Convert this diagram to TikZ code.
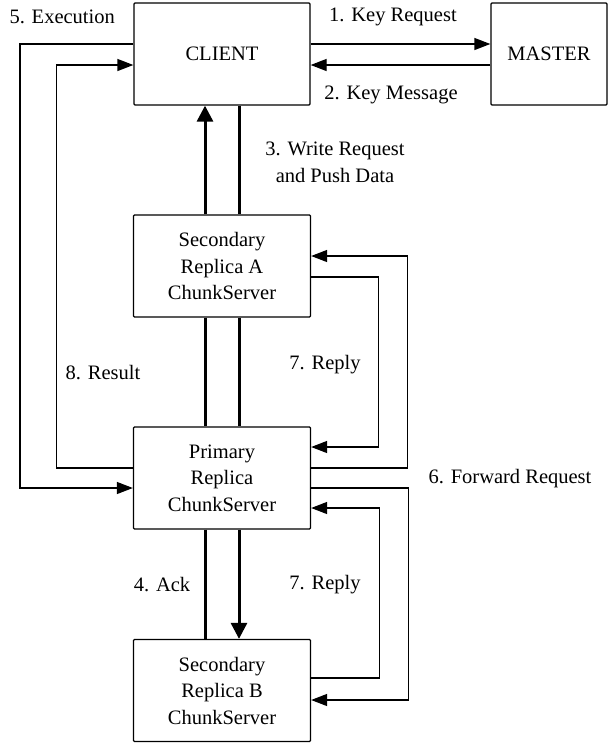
\documentclass[tikz,border=0pt]{standalone}
\usepackage{fontspec}
\setmainfont{Liberation Serif}
\usepackage{tikz}
\usetikzlibrary{arrows.meta}

\begin{document}
\begin{tikzpicture}[
	%Environment config
	x=1pt,y=1pt,
	font=\fontsize{20.5}{26.5}\selectfont,
	%Environment styles
	BoxCfg/.style={
		draw,
		rectangle,
		line width=1.3pt,
		rounded corners=1pt,
		align=center,
		inner sep=0pt,
		minimum width=177,
		minimum height=102
	},
	LinkCfg/.style={line width=1.3pt},
	BusCfg/.style={line width=3pt},
	TipCfg/.style={-{Triangle[length=16pt,width=12pt]}},
	BusTipCfg/.style={-{Triangle[length=16pt,width=16pt]}}
	]
	\useasboundingbox (0,0) rectangle (609,-745);
	\path
	(222,-54) node[BoxCfg,minimum width=176](CLIENT){CLIENT}
	++ (327,0) node[BoxCfg,minimum width=116](MASTER){MASTER}
	(CLIENT)
	++ (0,-212) node[BoxCfg](SECA){Secondary\\Replica A\\ChunkServer}
	++ (0,-212) node[BoxCfg](PRIM){Primary\\Replica\\ChunkServer}
	++ (0,-212.5) node[BoxCfg](SECB){Secondary\\Replica B\\ChunkServer};
	
	% labels
	\path
	(6,-17) node[anchor=west](LEXEC){5. Execution}
	(393,-17) node(LKEYREQ){1. Key Request}
	(391,-95) node(LKEYMSG){2. Key Message}
	(335,-162.5) node[align=center](LWRITE){3. Write Request\\and Push Data}
	(103,-373) node(LRESULT){8. Result}
	(325,-365) node(LREPLYA){7. Reply}
	(510,-479) node(LFORWARD){6. Forward Request}
	(162,-585) node(LACK){4. Ack}
	(325,-585) node(LREPLYB){7. Reply};
	
	% client and master
	\draw[LinkCfg,TipCfg]
	([yshift=10pt]CLIENT.east) -- ([yshift=10pt]MASTER.west);
	\draw[LinkCfg,TipCfg]
	([yshift=-11pt]MASTER.west) -- ([yshift=-11pt]CLIENT.east);
	
	% left loops
	\draw[LinkCfg,TipCfg]
	([yshift=10pt]CLIENT.west) -- ++(-113.5,0) |- ([yshift=-10pt]PRIM.west);
	\draw[LinkCfg,TipCfg]
	([yshift=10pt]PRIM.west) -- ++(-76.5,0) |- ([yshift=-11pt]CLIENT.west);
	
	% right loops
	\draw[LinkCfg,TipCfg]
	([yshift=10pt]PRIM.east) -- ++(96,0) |- ([yshift=10pt]SECA.east);
	\draw[LinkCfg,TipCfg]
	([yshift=-11pt]SECA.east) -- ++(67.5,0) |- ([yshift=31pt]PRIM.east);
	\draw[LinkCfg,TipCfg]
	([yshift=-10pt]PRIM.east) -- ++(97,0) |- ([yshift=-9.5pt]SECB.east);
	\draw[LinkCfg,TipCfg]
	([yshift=12.5pt]SECB.east) -- ++(68,0) |- ([yshift=-30pt]PRIM.east);
	
	% data path
	\draw[BusCfg,BusTipCfg]
	([xshift=-17pt]SECA.north) -- ([xshift=-17pt]CLIENT.south);
	\draw[BusCfg]
	([xshift=17pt]CLIENT.south) -- ([xshift=17pt]SECA.north)
	([xshift=-17pt]SECA.south) -- ([xshift=-17pt]PRIM.north)
	([xshift=17pt]SECA.south) -- ([xshift=17pt]PRIM.north)
	([xshift=-17pt]PRIM.south) -- ([xshift=-17pt]SECB.north);
	\draw[BusCfg,BusTipCfg]
	([xshift=17pt]PRIM.south) -- ([xshift=17pt]SECB.north);
\end{tikzpicture}
\end{document}
